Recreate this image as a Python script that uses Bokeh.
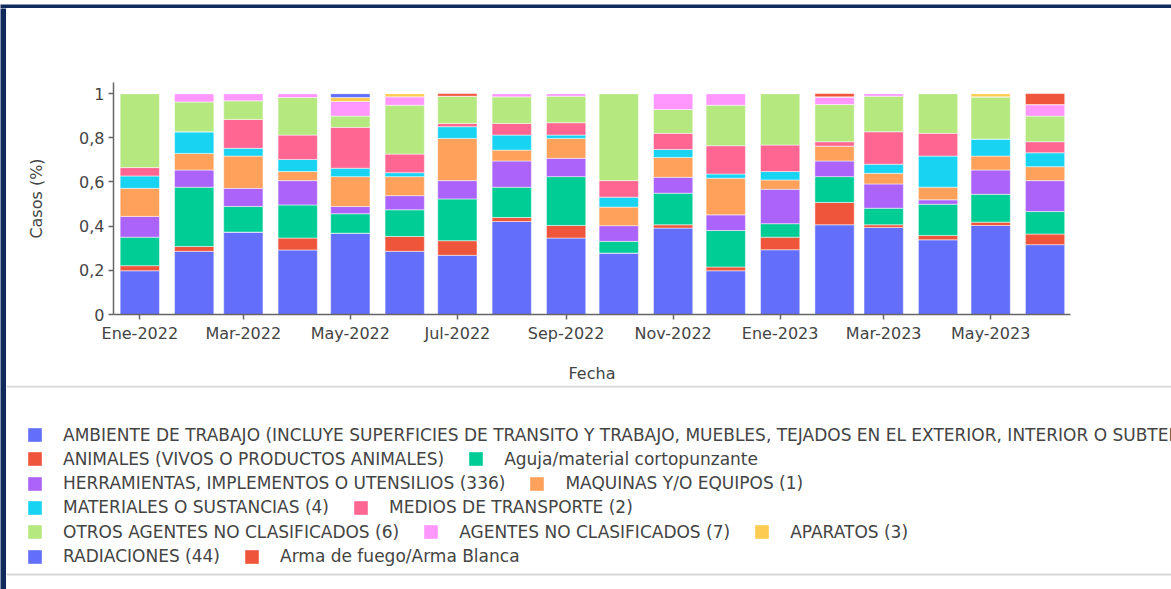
import pandas as pd
from bokeh.plotting import figure
from bokeh.layouts import column, row
from bokeh.models import (Range1d, FixedTicker, CustomJSTickFormatter, Legend,
                          LegendItem, Span, ColumnDataSource)
from bokeh.embed import file_html
from bokeh.resources import INLINE

# ---- data -------------------------------------------------------------
months = ["2022-01", "2022-02", "2022-03", "2022-04", "2022-05", "2022-06",
          "2022-07", "2022-08", "2022-09", "2022-10", "2022-11", "2022-12",
          "2023-01", "2023-02", "2023-03", "2023-04", "2023-05", "2023-06"]

tick_months = ["2022-01", "2022-03", "2022-05", "2022-07", "2022-09",
               "2022-11", "2023-01", "2023-03", "2023-05"]
tick_labels = ["Ene-2022", "Mar-2022", "May-2022", "Jul-2022", "Sep-2022",
               "Nov-2022", "Ene-2023", "Mar-2023", "May-2023"]
y_ticks = [0, 0.2, 0.4, 0.6, 0.8, 1]

series_names = [
    "AMBIENTE DE TRABAJO (INCLUYE SUPERFICIES DE TRANSITO Y TRABAJO, MUEBLES, TEJADOS EN EL EXTERIOR, INTERIOR O SUBTERRANEOS)",
    "ANIMALES (VIVOS O PRODUCTOS ANIMALES)",
    "Aguja/material cortopunzante",
    "HERRAMIENTAS, IMPLEMENTOS O UTENSILIOS (336)",
    "MAQUINAS Y/O EQUIPOS (1)",
    "MATERIALES O SUSTANCIAS (4)",
    "MEDIOS DE TRANSPORTE (2)",
    "OTROS AGENTES NO CLASIFICADOS (6)",
    "AGENTES NO CLASIFICADOS (7)",
    "APARATOS (3)",
    "RADIACIONES (44)",
    "Arma de fuego/Arma Blanca",
]
colors = ["#636EFA", "#EF553B", "#00CC96", "#AB63FA", "#FFA15A", "#19D3F3",
          "#FF6692", "#B6E880", "#FF97FF", "#FECB52", "#636EFA", "#EF553B"]

# share of cases per month for each agent
ambiente     = [0.198, 0.286, 0.373, 0.292, 0.368, 0.286, 0.268, 0.421, 0.346, 0.278, 0.391, 0.198, 0.293, 0.406, 0.394, 0.338, 0.403, 0.316]
animales     = [0.023, 0.022, 0.000, 0.054, 0.000, 0.067, 0.066, 0.018, 0.057, 0.000, 0.015, 0.017, 0.057, 0.101, 0.012, 0.020, 0.015, 0.048]
aguja        = [0.129, 0.268, 0.116, 0.150, 0.088, 0.121, 0.189, 0.137, 0.221, 0.053, 0.143, 0.165, 0.061, 0.117, 0.075, 0.141, 0.126, 0.102]
herramientas = [0.094, 0.078, 0.082, 0.110, 0.033, 0.064, 0.083, 0.119, 0.083, 0.071, 0.072, 0.071, 0.156, 0.071, 0.110, 0.020, 0.110, 0.140]
maquinas     = [0.127, 0.075, 0.146, 0.041, 0.135, 0.086, 0.191, 0.049, 0.090, 0.084, 0.090, 0.166, 0.042, 0.067, 0.048, 0.057, 0.063, 0.063]
materiales   = [0.056, 0.098, 0.035, 0.055, 0.038, 0.018, 0.053, 0.068, 0.015, 0.045, 0.036, 0.019, 0.038, 0.000, 0.041, 0.141, 0.077, 0.063]
medios       = [0.038, 0.000, 0.131, 0.110, 0.185, 0.084, 0.015, 0.053, 0.056, 0.075, 0.073, 0.128, 0.120, 0.020, 0.147, 0.103, 0.000, 0.050]
otros        = [0.335, 0.135, 0.084, 0.170, 0.051, 0.221, 0.123, 0.120, 0.120, 0.394, 0.108, 0.183, 0.233, 0.168, 0.161, 0.180, 0.191, 0.116]
agentes_nc   = [0.000, 0.038, 0.033, 0.018, 0.066, 0.038, 0.000, 0.015, 0.012, 0.000, 0.072, 0.053, 0.000, 0.035, 0.012, 0.000, 0.000, 0.052]
aparatos     = [0.000, 0.000, 0.000, 0.000, 0.018, 0.015, 0.000, 0.000, 0.000, 0.000, 0.000, 0.000, 0.000, 0.000, 0.000, 0.000, 0.015, 0.000]
radiaciones  = [0.000, 0.000, 0.000, 0.000, 0.018, 0.000, 0.000, 0.000, 0.000, 0.000, 0.000, 0.000, 0.000, 0.000, 0.000, 0.000, 0.000, 0.000]
arma         = [0.000, 0.000, 0.000, 0.000, 0.000, 0.000, 0.012, 0.000, 0.000, 0.000, 0.000, 0.000, 0.000, 0.015, 0.000, 0.000, 0.000, 0.050]

series_values = [ambiente, animales, aguja, herramientas, maquinas, materiales,
                 medios, otros, agentes_nc, aparatos, radiaciones, arma]

# legend rows (indices into series_names)
legend_rows = [[0], [1, 2], [3, 4], [5, 6], [7, 8, 9], [10, 11]]

# ---- helpers ---------------------------------------------------------
origin = pd.Timestamp("2022-01-01")


def day_offset(m):
    return int((pd.Timestamp(m + "-01") - origin).days)


x_days = [day_offset(m) for m in months]
tick_pos = [day_offset(m) for m in tick_months]

FONT = "DejaVu Sans"
TEXT = "#444444"
NAVY = "#102a5c"
AXIS = "#666666"
RULE = "#d6d6d6"

keys = [f"s{i}" for i in range(len(series_names))]
data = {"x": x_days}
for k, vals in zip(keys, series_values):
    data[k] = vals
src = ColumnDataSource(data)

# ---- chart ----------------------------------------------------------
chart = figure(width=1165, height=375, toolbar_location=None,
               output_backend="svg",
               x_range=Range1d(-15.0, 530.5), y_range=Range1d(0, 1.05),
               min_border_left=107, min_border_right=101,
               min_border_top=72, min_border_bottom=70)
chart.frame_align = False
chart.vbar_stack(keys, x="x", width=22.4, color=colors, source=src,
                 line_color="white", line_width=0.5)

chart.xgrid.visible = False
chart.ygrid.visible = False
chart.outline_line_color = None

xa = chart.xaxis[0]
xa.ticker = FixedTicker(ticks=tick_pos)
xa.major_label_overrides = dict(zip(tick_pos, tick_labels))
xa.axis_label = "Fecha"
xa.axis_label_standoff = 18

ya = chart.yaxis[0]
ya.ticker = FixedTicker(ticks=y_ticks)
ya.formatter = CustomJSTickFormatter(
    code="const s = (Math.round(tick * 10) / 10).toString(); return s.replace('.', ',');")
ya.axis_label = "Casos (%)"
ya.axis_label_standoff = 30

for ax in (xa, ya):
    ax.axis_line_color = AXIS
    ax.axis_line_width = 1.5
    ax.major_tick_line_color = AXIS
    ax.major_tick_line_width = 1.5
    ax.major_tick_out = 5
    ax.major_tick_in = 0
    ax.minor_tick_line_color = None
    ax.major_label_standoff = 4
    ax.major_label_text_font = FONT
    ax.major_label_text_font_size = "16px"
    ax.major_label_text_color = TEXT
    ax.axis_label_text_font = FONT
    ax.axis_label_text_font_size = "16px"
    ax.axis_label_text_font_style = "normal"
    ax.axis_label_text_color = TEXT

# ---- legend area ----------------------------------------------------
LW, LH = 1165, 204
leg_fig = figure(width=LW, height=LH, toolbar_location=None,
                 output_backend="svg", x_axis_type=None, y_axis_type=None,
                 x_range=Range1d(0, LW), y_range=Range1d(0, LH),
                 min_border=0, min_border_left=0, min_border_right=0,
                 min_border_top=0, min_border_bottom=0,
                 outline_line_color=None)
leg_fig.frame_align = False

# zero-height proxies that carry each series' swatch colour
proxy_src = ColumnDataSource(dict(x=[0], top=[0]))
swatches = [leg_fig.vbar(x="x", top="top", width=0, source=proxy_src,
                         fill_color=c, line_alpha=0)
            for c in colors]

row_centers = [49.5, 73.8, 98.1, 122.4, 146.7, 171.0]
for idxs, cy in zip(legend_rows, row_centers):
    items = [LegendItem(label=series_names[i], renderers=[swatches[i]])
             for i in idxs]
    leg = Legend(items=items, orientation="horizontal",
                 location=(20, LH - (cy + 10)),
                 glyph_width=17, glyph_height=17, label_height=20,
                 label_standoff=20, spacing=23, padding=0, margin=0,
                 border_line_alpha=0, background_fill_alpha=0,
                 label_text_font=FONT, label_text_font_size="17px",
                 label_text_color=TEXT)
    leg_fig.add_layout(leg)

leg_fig.add_layout(Span(location=203, dimension="width",
                        line_color=RULE, line_width=2))
leg_fig.add_layout(Span(location=15, dimension="width",
                        line_color=RULE, line_width=2))

# ---- frame strips ---------------------------------------------------
def strip(w, h, fill):
    s = figure(width=w, height=h, toolbar_location=None,
               output_backend="svg", x_axis_type=None, y_axis_type=None,
               min_border=0, outline_line_color=None,
               background_fill_color=fill, border_fill_color=fill)
    s.frame_align = False
    return s


top_strip = strip(1171, 8, NAVY)
left_strip = strip(6, 581, NAVY)
top_rule = strip(1165, 2, "#e3e3e3")

page = column(top_strip,
              row(left_strip, column(top_rule, chart, leg_fig)))

open("out.html", "w").write(file_html(page, INLINE))
